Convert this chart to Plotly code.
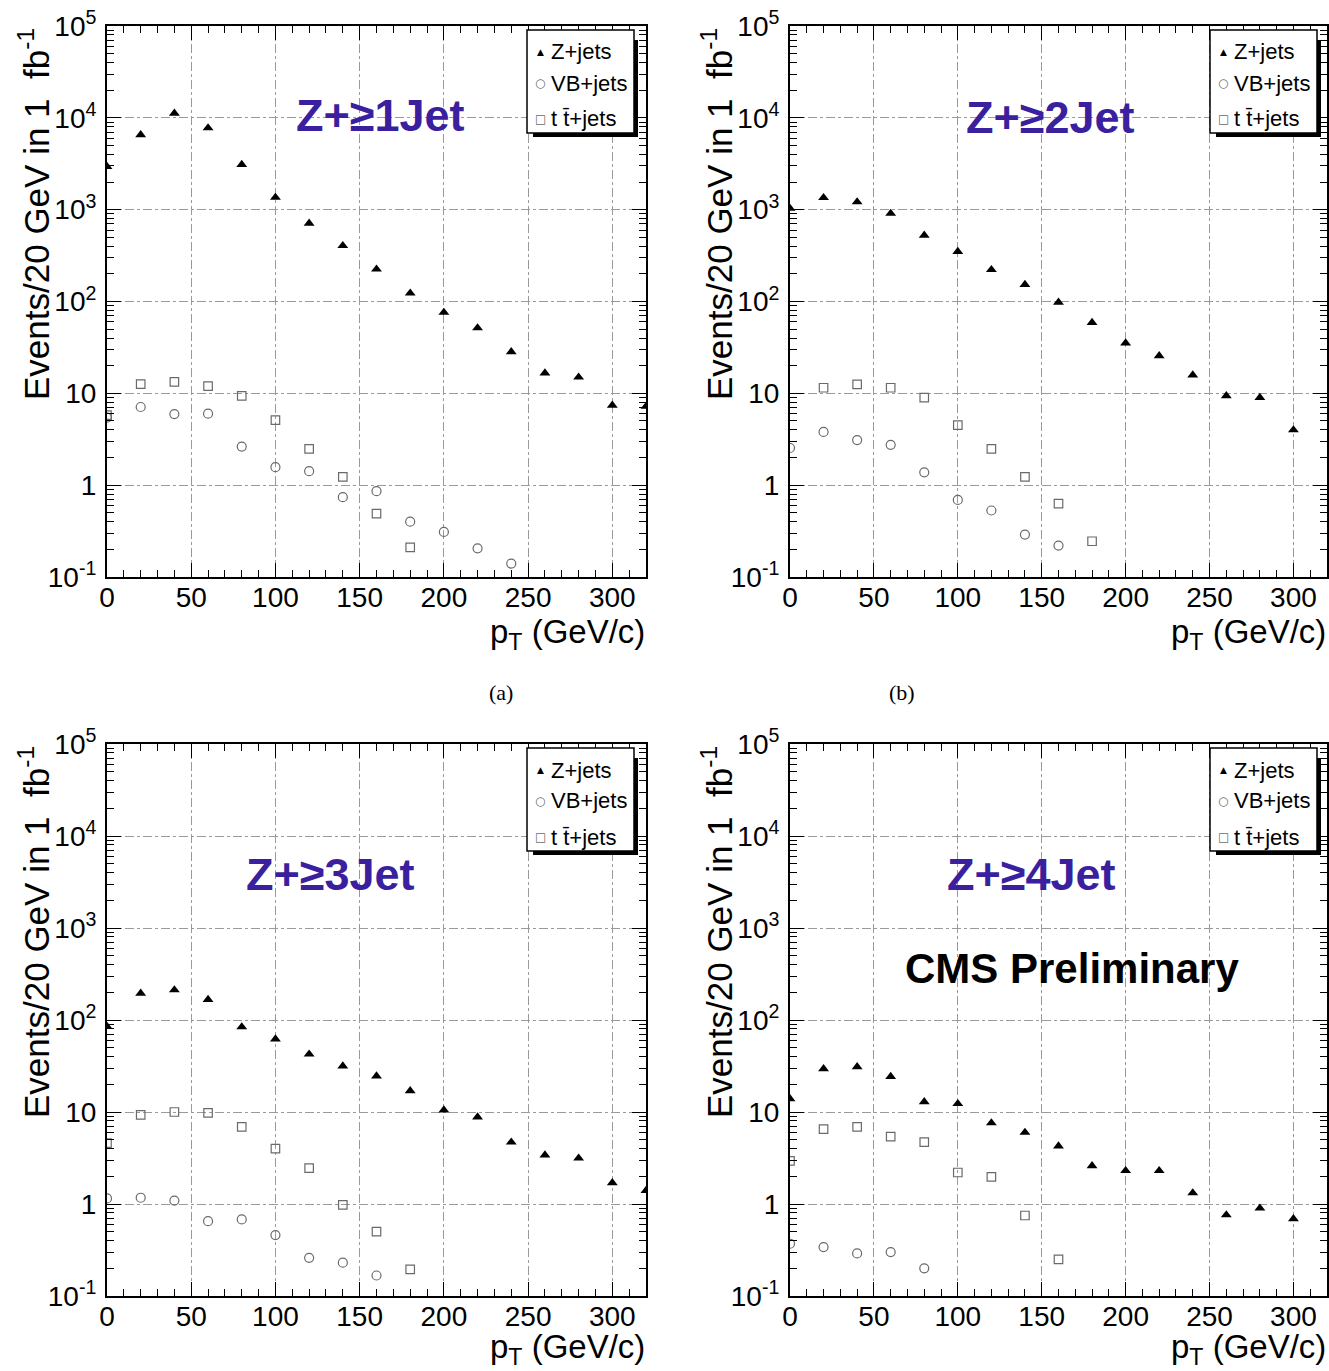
import plotly.graph_objects as go

# pT bin positions (GeV/c), one point every 20 GeV
PT = [0, 20, 40, 60, 80, 100, 120, 140, 160, 180, 200, 220, 240, 260, 280, 300, 320]

# Events / 20 GeV in 1 fb^-1 -- Z + >=1 jet
A_ZJETS = [2950, 6530, 11200, 7760, 3100, 1360, 710, 405, 225, 123, 76, 51.5, 28.3, 16.6, 15.0, 7.4, 7.2]
A_VBJETS = [5.45, 7.1, 5.95, 6.0, 2.63, 1.57, 1.42, 0.74, 0.86, 0.40, 0.31, 0.205, 0.14]
A_TTJETS = [5.8, 12.6, 13.3, 12.0, 9.4, 5.1, 2.48, 1.23, 0.49, 0.21]

# Z + >=2 jets
B_ZJETS = [1030, 1350, 1215, 910, 525, 350, 222, 153, 98, 59, 35.3, 25.6, 15.8, 9.4, 9.0, 4.0]
B_VBJETS = [2.54, 3.8, 3.1, 2.75, 1.38, 0.69, 0.53, 0.29, 0.22]
B_TTJETS = [None, 11.5, 12.5, 11.5, 9.0, 4.5, 2.48, 1.23, 0.63, 0.245]

# Z + >=3 jets
C_ZJETS = [85, 195, 212, 167, 84, 62, 42.5, 31.6, 24.6, 17, 10.5, 8.8, 4.7, 3.4, 3.15, 1.7, 1.4]
C_VBJETS = [1.15, 1.17, 1.09, 0.65, 0.68, 0.46, 0.26, 0.23, 0.167]
C_TTJETS = [4.6, 9.3, 10.0, 9.8, 6.9, 4.0, 2.45, 0.98, 0.50, 0.195]

# Z + >=4 jets
D_ZJETS = [13.9, 29.5, 31, 24.3, 12.9, 12.3, 7.6, 6.0, 4.27, 2.6, 2.3, 2.3, 1.32, 0.76, 0.90, 0.69]
D_VBJETS = [0.37, 0.34, 0.29, 0.30, 0.20]
D_TTJETS = [2.95, 6.5, 6.9, 5.4, 4.7, 2.2, 1.97, 0.75, 0.25]

PANEL_TITLES = ["Z+\u22651Jet", "Z+\u22652Jet", "Z+\u22653Jet", "Z+\u22654Jet"]
SERIES_NAMES = ["Z+jets", "VB+jets", "t t\u0304+jets"]
X_TICKS = [0, 50, 100, 150, 200, 250, 300]
Y_TICKS = [0.1, 1, 10, 100, 1000, 10000, 100000]
Y_TICKTEXT = ["10<sup>-1</sup>", "1", "10", "10<sup>2</sup>", "10<sup>3</sup>",
              "10<sup>4</sup>", "10<sup>5</sup>"]

W, H = 1329, 1371
FONT = "Liberation Sans, Arial, Helvetica, sans-serif"
TITLE_COLOR = "#3a1f9e"
GRAY = "#6a6a6a"

# frame of each pad in pixels: left, right, top, bottom
FRAMES = [(107, 646, 26, 577), (790, 1327, 26, 577),
          (107, 646, 744, 1296), (790, 1327, 744, 1296)]


def fx(px):
    return px / W


def fy(py):
    return 1 - py / H


series = [
    (A_ZJETS, A_VBJETS, A_TTJETS),
    (B_ZJETS, B_VBJETS, B_TTJETS),
    (C_ZJETS, C_VBJETS, C_TTJETS),
    (D_ZJETS, D_VBJETS, D_TTJETS),
]

fig = go.Figure()
layout = dict(
    width=W, height=H,
    margin=dict(l=0, r=0, t=0, b=0, autoexpand=False),
    paper_bgcolor="white", plot_bgcolor="white",
    showlegend=False,
    font=dict(family=FONT, color="black"),
)
annotations = []
shapes = []

for i, (zj, vb, tt) in enumerate(series):
    n = "" if i == 0 else str(i + 1)
    xa, ya = "x" + n, "y" + n
    x0, x1, y0, y1 = FRAMES[i]

    fig.add_trace(go.Scatter(
        x=PT[:len(zj)], y=zj, mode="markers", name=SERIES_NAMES[0],
        xaxis=xa, yaxis=ya,
        marker=dict(symbol="triangle-up", size=9.5, color="black")))
    fig.add_trace(go.Scatter(
        x=PT[:len(vb)], y=vb, mode="markers", name=SERIES_NAMES[1],
        xaxis=xa, yaxis=ya,
        marker=dict(symbol="circle-open", size=9, color=GRAY, line=dict(width=1.2, color=GRAY))))
    fig.add_trace(go.Scatter(
        x=PT[:len(tt)], y=tt, mode="markers", name=SERIES_NAMES[2],
        xaxis=xa, yaxis=ya,
        marker=dict(symbol="square-open", size=8.5, color=GRAY, line=dict(width=1.2, color=GRAY))))

    common = dict(
        showline=True, linecolor="black", linewidth=2, mirror="allticks",
        ticks="inside", ticklen=14, tickwidth=1, tickcolor="black",
        showgrid=True, gridcolor="#9a9a9a", gridwidth=1, griddash="dashdot",
        zeroline=False, automargin=False,
        tickfont=dict(size=28, family=FONT, color="black"),
    )
    layout["xaxis" + n] = dict(
        common, domain=[fx(x0), fx(x1)], anchor=ya, range=[0, 320],
        tickmode="array", tickvals=X_TICKS, ticktext=[str(v) for v in X_TICKS],
        ticklabelstandoff=-6,
        minor=dict(ticks="inside", ticklen=7, tickwidth=1, tickcolor="black",
                   tickmode="linear", tick0=0, dtick=10, showgrid=False),
    )
    layout["yaxis" + n] = dict(
        common, domain=[fy(y1), fy(y0)], anchor=xa, type="log", range=[-1, 5],
        tickmode="array", tickvals=Y_TICKS, ticktext=Y_TICKTEXT,
        ticklabelstandoff=3,
        minor=dict(ticks="inside", ticklen=7, tickwidth=1, tickcolor="black",
                   dtick="D1", showgrid=False),
    )

    # axis titles
    annotations.append(dict(
        text="Events/20 GeV in 1  fb<sup>-1</sup>", textangle=-90,
        x=fx(x0 - 73), y=fy(y0 + 188), xref="paper", yref="paper",
        xanchor="center", yanchor="middle", showarrow=False,
        font=dict(size=35, family=FONT)))
    annotations.append(dict(
        text="p<sub>T</sub> (GeV/c)",
        x=fx(x1 + 1), y=fy(y1 + (57 if y1 < 1000 else 53)), xref="paper", yref="paper",
        xanchor="right", yanchor="middle", showarrow=False,
        font=dict(size=33, family=FONT)))

    # legend box with drop shadow
    L, R, T, B = x0 + 420, x0 + 527, y0 + 4, y0 + 107
    shapes.append(dict(type="rect", xref="paper", yref="paper",
                       x0=fx(L + 6), x1=fx(R + 4), y0=fy(B + 4), y1=fy(T + 10),
                       fillcolor="black", line=dict(width=0), layer="above"))
    shapes.append(dict(type="rect", xref="paper", yref="paper",
                       x0=fx(L), x1=fx(R), y0=fy(B), y1=fy(T),
                       fillcolor="white", line=dict(width=1.5, color="black"), layer="above"))
    rows = [y0 + 26, y0 + 57, y0 + 93]
    glyphs = [("\u25b2", 9, "black"), ("\u25cb", 12, GRAY), ("\u25a1", 12, GRAY)]
    for (g, gs, gc), ry, label in zip(glyphs, rows, SERIES_NAMES):
        annotations.append(dict(
            text=g, x=fx(x0 + 433), y=fy(ry), xref="paper", yref="paper",
            xanchor="center", yanchor="middle", showarrow=False,
            font=dict(size=gs, color=gc, family="DejaVu Sans")))
        annotations.append(dict(
            text=label, x=fx(x0 + 442), y=fy(ry), xref="paper", yref="paper",
            xanchor="left", yanchor="middle", showarrow=False,
            font=dict(size=22, family=FONT)))

# jet-multiplicity labels
title_pos = [(380, 115), (1050, 117), (330, 875), (1031, 875)]
for txt, (tx, ty) in zip(PANEL_TITLES, title_pos):
    annotations.append(dict(
        text="<b>" + txt + "</b>", x=fx(tx), y=fy(ty), xref="paper", yref="paper",
        xanchor="center", yanchor="middle", showarrow=False,
        font=dict(size=45, family=FONT, color=TITLE_COLOR)))

annotations.append(dict(
    text="<b>CMS Preliminary</b>", x=fx(1072), y=fy(968), xref="paper", yref="paper",
    xanchor="center", yanchor="middle", showarrow=False,
    font=dict(size=42, family=FONT, color="black")))

# sub-figure captions
for txt, cx in [("(a)", 501), ("(b)", 902)]:
    annotations.append(dict(
        text=txt, x=fx(cx), y=fy(692), xref="paper", yref="paper",
        xanchor="center", yanchor="middle", showarrow=False,
        font=dict(size=22, family="Liberation Serif, Times New Roman, serif")))

layout["annotations"] = annotations
layout["shapes"] = shapes
fig.update_layout(**layout)

fig.write_html("out.html")
